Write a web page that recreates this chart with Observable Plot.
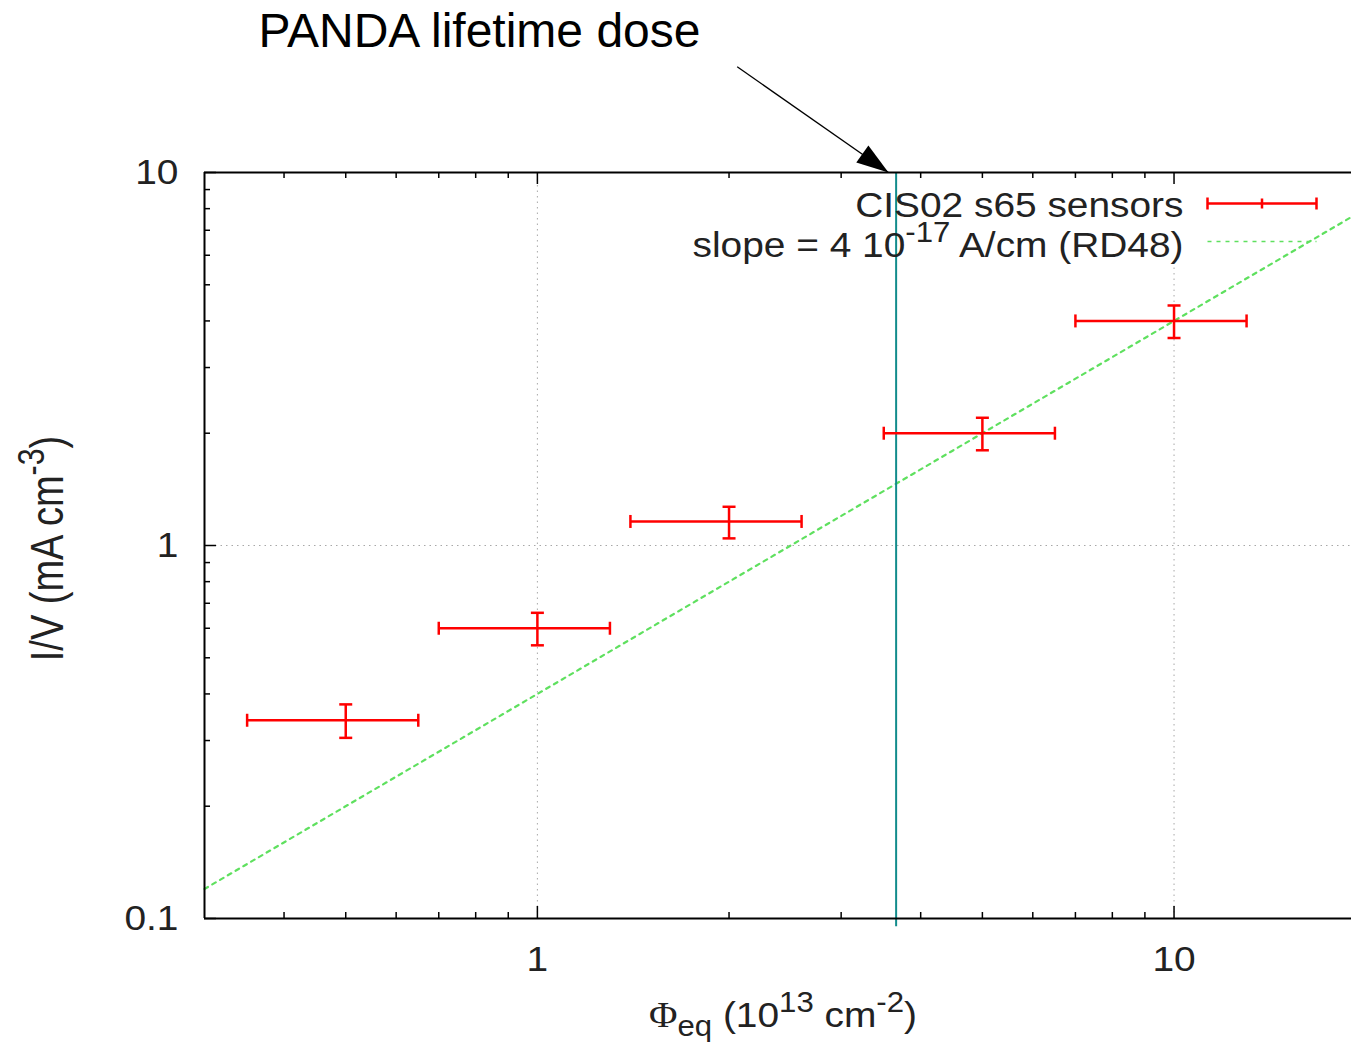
<!DOCTYPE html>
<html>
<head>
<meta charset="utf-8">
<script src="https://cdn.jsdelivr.net/npm/d3@7"></script>
<script src="https://cdn.jsdelivr.net/npm/@observablehq/plot@0.6"></script>
<style>
  html, body { margin: 0; padding: 0; background: #fff; overflow: hidden; }
  svg { display: block; }
</style>
</head>
<body>
<div id="chart"></div>
<script>
// ---- data ----
const fluence   = [0.5, 1, 2, 5, 10];          // Φeq (1e13 cm^-2)
const fluenceLo = [0.35, 0.7, 1.4, 3.5, 7];
const fluenceHi = [0.65, 1.3, 2.6, 6.5, 13];
const current   = [0.34, 0.60, 1.16, 2.0, 4.0]; // I/V (mA cm^-3)
const currentLo = [0.305, 0.54, 1.045, 1.8, 3.6];
const currentHi = [0.375, 0.66, 1.27, 2.2, 4.4];

// RD48 slope line endpoints (alpha = 4e-17 A/cm)
const slopeX = [0.3, 19];
const slopeY = [0.12, 7.6];

// PANDA lifetime dose marker
const doseX = [3.66];
const doseY = [0.095, 10];
const arrowFrom = [2.06, 19.2];
const arrowTo = [3.56, 10];

// grid lines
const gridX = [1, 10];
const gridXTop = [10, 5.7];
const gridY = [1];

// axes
const xDomain = [0.3, 19];
const yDomain = [0.1, 10];
const xMajor = [1, 10];
const xMinor = [0.4, 0.5, 0.6, 0.7, 0.8, 0.9, 2, 3, 4, 5, 6, 7, 8, 9];
const yMajor = [0.1, 1, 10];
const yMinor = [0.2, 0.3, 0.4, 0.5, 0.6, 0.7, 0.8, 0.9, 2, 3, 4, 5, 6, 7, 8, 9];
const xTickLabels = ["1", "10"];
const yTickLabels = ["0.1", "1", "10"];

// texts
const title = "PANDA lifetime dose";
const legendLabels = ["CIS02 s65 sensors", "slope = 4 10^{-17} A/cm (RD48)"];
const xLabel = "~{Φ}_{eq} (10^{13} cm^{-2})";
const yLabel = "I/V (mA cm^{-3})";

// ---- layout / style ----
const W = 1351, H = 1044;
const mTop = 172, mBottom = 126, mLeft = 204, mRight = 0;
const innerH = H - mTop - mBottom;
const innerW = W - mLeft - mRight;
const fontFamily = "'Liberation Sans', Arial, Helvetica, sans-serif";
const red = "#ff0000";
const green = "#5fe05f";
const teal = "#128c8c";
const gridColor = "#a8a8a8";
const labelSize = 36;

const pts = fluence.map((x, i) => ({
  x, xlo: fluenceLo[i], xhi: fluenceHi[i],
  y: current[i], ylo: currentLo[i], yhi: currentHi[i]
}));
const slope = slopeX.map((x, i) => ({x, y: slopeY[i]}));
const grid = gridX.map((x, i) => ({x, top: gridXTop[i]}));

// custom symbols
const vCap = {draw(c) { c.moveTo(0, -6.5); c.lineTo(0, 6.5); }};
const hCap = {draw(c) { c.moveTo(-6.5, 0); c.lineTo(6.5, 0); }};
const head = {draw(c) { c.moveTo(0, 0); c.lineTo(-10.5, 32); c.lineTo(10.5, 32); c.closePath(); }};
const keyErr = {draw(c) {
  c.moveTo(-54.5, 0); c.lineTo(54.5, 0);
  c.moveTo(-54.5, -6); c.lineTo(-54.5, 6);
  c.moveTo(54.5, -6); c.lineTo(54.5, 6);
  c.moveTo(0, -5); c.lineTo(0, 5);
}};
const keyLine = {draw(c) { c.moveTo(-54.5, 0); c.lineTo(54.5, 0); }};

const errStyle = {stroke: red, strokeWidth: 2.5};

const chart = Plot.plot({
  width: W, height: H,
  marginTop: mTop, marginBottom: mBottom, marginLeft: mLeft, marginRight: mRight,
  style: {fontFamily, background: "#fff", color: "#000"},
  x: {type: "log", domain: xDomain, axis: null},
  y: {type: "log", domain: yDomain, axis: null},
  marks: [
    // grid
    Plot.ruleX(grid, {x: "x", y1: yDomain[0], y2: "top", stroke: gridColor, strokeWidth: 1, strokeDasharray: "1.5,4"}),
    Plot.ruleY(gridY, {stroke: gridColor, strokeWidth: 1, strokeDasharray: "1.5,4"}),
    // RD48 line
    Plot.line(slope, {x: "x", y: "y", stroke: green, strokeWidth: 2.2, strokeDasharray: "4,5"}),
    // PANDA dose line
    Plot.ruleX(doseX, {x: d => d, y1: doseY[0], y2: doseY[1], stroke: teal, strokeWidth: 2}),
    // error bars
    Plot.link(pts, {x1: "xlo", x2: "xhi", y1: "y", y2: "y", ...errStyle}),
    Plot.link(pts, {x1: "x", x2: "x", y1: "ylo", y2: "yhi", ...errStyle}),
    Plot.dot(pts, {x: "xlo", y: "y", symbol: vCap, fill: "none", ...errStyle}),
    Plot.dot(pts, {x: "xhi", y: "y", symbol: vCap, fill: "none", ...errStyle}),
    Plot.dot(pts, {x: "x", y: "ylo", symbol: hCap, fill: "none", ...errStyle}),
    Plot.dot(pts, {x: "x", y: "yhi", symbol: hCap, fill: "none", ...errStyle}),
    // border (left, bottom, top)
    Plot.ruleY(yDomain, {stroke: "#000", strokeWidth: 2}),
    Plot.ruleX([xDomain[0]], {stroke: "#000", strokeWidth: 2}),
    // inward ticks
    Plot.ruleX(xMinor, {insetTop: innerH - 6, stroke: "#000", strokeWidth: 1.5}),
    Plot.ruleX(xMajor, {insetTop: innerH - 12, stroke: "#000", strokeWidth: 1.5}),
    Plot.ruleX(xMinor, {insetBottom: innerH - 6, stroke: "#000", strokeWidth: 1.5}),
    Plot.ruleX(xMajor, {insetBottom: innerH - 12, stroke: "#000", strokeWidth: 1.5}),
    Plot.ruleY(yMinor, {insetRight: innerW - 6, stroke: "#000", strokeWidth: 1.5}),
    Plot.ruleY(yMajor, {insetRight: innerW - 12, stroke: "#000", strokeWidth: 1.5}),
    // tick labels
    Plot.text(xMajor, {x: d => d, text: (d, i) => xTickLabels[i], frameAnchor: "bottom", textAnchor: "middle", lineAnchor: "top", dy: 27, fontSize: labelSize, fill: "#222", className: "stretch"}),
    Plot.text(yMajor, {y: d => d, text: (d, i) => yTickLabels[i], frameAnchor: "left", textAnchor: "end", lineAnchor: "middle", dx: -26, fontSize: labelSize, fill: "#222", className: "stretch"}),
    // axis labels
    Plot.text([xLabel], {frameAnchor: "bottom", textAnchor: "middle", lineAnchor: "middle", dx: 5, dy: 97, fontSize: labelSize, fill: "#222", className: "stretch"}),
    Plot.text([yLabel], {frameAnchor: "left", textAnchor: "middle", lineAnchor: "middle", rotate: -90, dx: -156, dy: 3, fontSize: 38, fill: "#222", className: "stretchY"}),
    // legend
    Plot.text([legendLabels[0]], {frameAnchor: "top-right", textAnchor: "end", lineAnchor: "middle", dx: -168, dy: 33, fontSize: labelSize, fill: "#222", className: "stretch"}),
    Plot.text([legendLabels[1]], {frameAnchor: "top-right", textAnchor: "end", lineAnchor: "middle", dx: -168, dy: 73, fontSize: labelSize, fill: "#222", className: "stretch"}),
    Plot.dot([legendLabels[0]], {frameAnchor: "top-right", dx: -89.5, dy: 31, symbol: keyErr, fill: "none", ...errStyle}),
    Plot.dot([legendLabels[1]], {frameAnchor: "top-right", dx: -89.5, dy: 69, symbol: keyLine, fill: "none", stroke: green, strokeWidth: 1.5, strokeDasharray: "4,5"}),
    // annotation
    Plot.link([{a: arrowFrom, b: arrowTo}], {x1: d => d.a[0], y1: d => d.a[1], x2: d => d.b[0], y2: d => d.b[1], stroke: "#000", strokeWidth: 1.3}),
    Plot.dot([arrowTo], {x: d => d[0], y: d => d[1], symbol: head, rotate: 125.3, fill: "#000", stroke: "none"}),
    Plot.text([title], {frameAnchor: "top-left", textAnchor: "start", lineAnchor: "middle", dx: 54, dy: -141, fontSize: 48, fill: "#000"})
  ]
});

document.getElementById("chart").appendChild(chart);

// rich text: ^{sup}, _{sub}, ~{serif}
d3.select(chart).selectAll("text").each(function() {
  const t = this.textContent;
  if (!/[\^_~]\{/.test(t)) return;
  const fs = parseFloat(getComputedStyle(this).fontSize);
  this.textContent = "";
  const re = /([\^_~])\{([^}]*)\}|([^\^_~]+)/g;
  let m, shift = 0;
  while ((m = re.exec(t))) {
    const ts = document.createElementNS("http://www.w3.org/2000/svg", "tspan");
    let target = 0, text, size = null, family = null;
    if (m[3] !== undefined) text = m[3];
    else {
      text = m[2];
      if (m[1] === "^") { target = -0.42 * fs; size = 0.8 * fs; }
      else if (m[1] === "_") { target = 0.25 * fs; size = 0.8 * fs; }
      else { family = "'Liberation Serif', 'DejaVu Serif', serif"; }
    }
    const dy = target - shift;
    if (dy) ts.setAttribute("dy", dy.toFixed(2));
    shift = target;
    if (size) ts.setAttribute("font-size", size.toFixed(2));
    if (family) ts.setAttribute("font-family", family);
    ts.textContent = text;
    this.appendChild(ts);
  }
});

// gnuplot-like horizontally stretched text
d3.select(chart).selectAll("g.stretch text").each(function() {
  const t = this.getAttribute("transform") || "";
  this.setAttribute("transform", t + " scale(1.08,1)");
});
d3.select(chart).selectAll("g.stretchY text").each(function() {
  const t = this.getAttribute("transform") || "";
  this.setAttribute("transform", t + " scale(1,1.2)");
});
</script>
</body>
</html>
